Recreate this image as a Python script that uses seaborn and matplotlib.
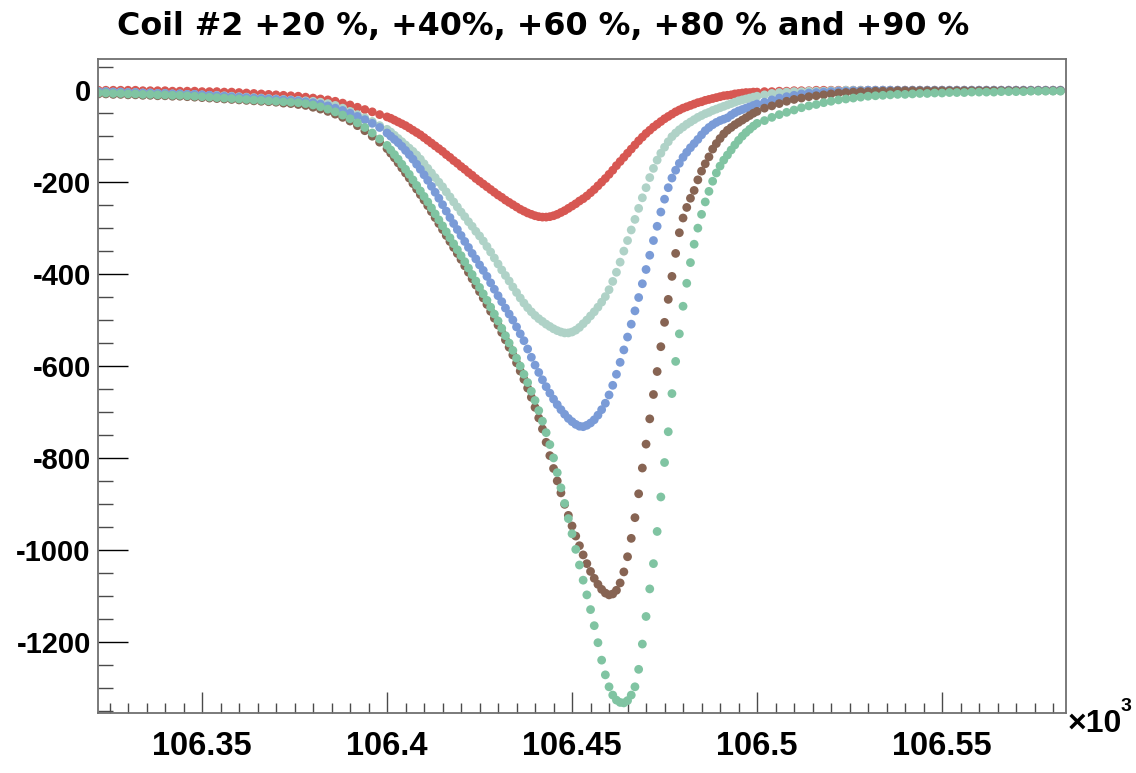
import numpy as np
import pandas as pd
import matplotlib
matplotlib.use("Agg")
import matplotlib.pyplot as plt
from matplotlib.ticker import MultipleLocator, FuncFormatter
import seaborn as sns

# ---------------- data (x in raw units, shown on axis as x/1000 with "x10^3") -------------
# sampling grid: coarse on flat wings, finer through the resonance
X_LEFT = np.arange(106322, 106400, 2)    # 106322 .. 106398
X_MID = np.arange(106400, 106501, 1)     # 106400 .. 106500
X_RIGHT = np.arange(106502, 106583, 2)   # 106502 .. 106582

SERIES = ["+20 %", "+40 %", "+60 %", "+80 %", "+90 %"]

RED_L = [0, 0, 0, 0, 0, 0, -1, -1, -1, -1, -2, -2, -2, -2, -3, -3, -3, -4, -4, -5,
         -6, -7, -8, -9, -10, -11, -12, -13, -15, -17, -19, -21, -24, -28, -32, -37, -42, -47, -53]
RED_M = [-58, -61, -65, -69, -73, -77, -82, -87, -92, -97,
         -103, -109, -115, -121, -127, -133, -140, -146, -153, -159,
         -166, -172, -179, -185, -192, -198, -204, -210, -216, -222,
         -228, -233, -239, -244, -249, -254, -259, -263, -267, -270,
         -273, -275, -276, -276, -275, -273, -270, -266, -262, -257,
         -252, -247, -241, -236, -230, -223, -216, -208, -200, -192,
         -183, -174, -164, -155, -146, -137, -128, -119, -110, -102,
         -94, -87, -80, -74, -68, -62, -57, -52, -47, -43,
         -39, -36, -33, -30, -27, -25, -22, -20, -18, -16,
         -14, -12, -11, -10, -8, -7, -6, -5, -5, -4,
         -4]
RED_R = [-3, -3, -2, -2, -1, -1, -1] + [0] * 34

TEAL_L = [-3, -3, -4, -4, -5, -5, -6, -6, -7, -7,
          -8, -8, -9, -9, -10, -11, -11, -12, -13, -14,
          -15, -16, -17, -18, -19, -20, -21, -22, -23, -24,
          -26, -29, -33, -39, -46, -53, -60, -68, -77]
TEAL_M = [-85, -91, -98, -105, -112, -119, -126, -133, -141, -150,
          -160, -170, -180, -190, -200, -210, -221, -232, -243, -254,
          -265, -275, -286, -296, -307, -317, -328, -340, -352, -365,
          -378, -391, -403, -415, -428, -440, -452, -463, -473, -482,
          -490, -497, -503, -509, -514, -519, -523, -526, -528, -528,
          -526, -522, -516, -508, -500, -491, -482, -472, -461, -449,
          -434, -416, -396, -374, -350, -327, -304, -281, -257, -234,
          -212, -190, -170, -152, -137, -124, -112, -101, -93, -86,
          -80, -74, -69, -64, -59, -55, -51, -48, -44, -41,
          -38, -35, -32, -29, -26, -23, -21, -19, -17, -15,
          -13]
TEAL_R = [-10, -7, -5, -4, -3, -3, -2, -2, -2, -1, -1] + [0] * 30

BLUE_L = [-3, -3, -4, -4, -5, -5, -6, -6, -7, -7,
          -8, -8, -9, -9, -10, -11, -12, -13, -14, -15,
          -16, -17, -18, -19, -20, -21, -22, -23, -25, -27,
          -30, -34, -39, -44, -50, -57, -64, -72, -81]
BLUE_M = [-93, -100, -107, -114, -122, -131, -140, -150, -161, -172,
          -184, -196, -209, -222, -235, -249, -263, -277, -290, -303,
          -316, -329, -342, -355, -367, -380, -392, -405, -419, -433,
          -447, -460, -474, -487, -500, -515, -530, -545, -563, -581,
          -598, -614, -630, -645, -659, -672, -684, -695, -705, -714,
          -721, -727, -731, -732, -729, -724, -717, -707, -695, -681,
          -663, -642, -618, -592, -565, -537, -509, -480, -451, -421,
          -390, -359, -327, -296, -265, -237, -212, -191, -174, -159,
          -146, -135, -125, -116, -107, -97, -88, -81, -75, -70,
          -66, -63, -60, -54, -49, -45, -42, -39, -36, -33,
          -30]
BLUE_R = [-26, -21, -17, -14, -11, -8, -6, -5, -4, -3, -2, -2, -1, -1] + [0] * 27

BROWN_L = [-8, -8, -9, -9, -10, -10, -11, -11, -12, -12,
           -13, -13, -14, -15, -16, -17, -18, -19, -20, -21,
           -22, -23, -24, -25, -26, -28, -29, -31, -33, -37,
           -41, -46, -52, -59, -67, -77, -88, -100, -113]
BROWN_M = [-127, -137, -147, -158, -169, -180, -191, -203, -215, -227,
           -239, -251, -264, -277, -290, -303, -316, -329, -342, -355,
           -368, -382, -396, -410, -424, -438, -452, -466, -481, -496,
           -511, -527, -543, -559, -576, -593, -611, -629, -648, -668,
           -690, -713, -737, -766, -795, -823, -850, -876, -901, -925,
           -948, -970, -991, -1011, -1030, -1047, -1062, -1075, -1086, -1094,
           -1098, -1096, -1088, -1072, -1048, -1015, -975, -930, -878, -822,
           -770, -715, -662, -612, -558, -505, -455, -405, -355, -310,
           -278, -255, -235, -218, -195, -176, -160, -145, -128, -116,
           -105, -95, -87, -81, -75, -70, -65, -60, -55, -50,
           -46]
BROWN_R = [-39, -34, -29, -24, -20, -17, -14, -12, -10, -8,
           -6, -5, -4, -3, -3, -2, -2, -2, -1] + [-1] * 22

GREEN_L = [-6, -6, -7, -7, -8, -8, -9, -9, -10, -10,
           -11, -11, -12, -13, -14, -15, -16, -17, -18, -19,
           -20, -21, -22, -23, -24, -25, -26, -27, -29, -32,
           -36, -41, -47, -54, -62, -71, -81, -93, -106]
GREEN_M = [-120, -130, -140, -150, -161, -172, -183, -195, -207, -219,
           -231, -243, -256, -269, -282, -295, -308, -321, -334, -347,
           -360, -373, -387, -401, -415, -429, -443, -457, -472, -487,
           -502, -518, -534, -550, -566, -583, -600, -618, -636, -655,
           -675, -697, -720, -745, -771, -800, -832, -865, -899, -932,
           -965, -999, -1033, -1066, -1098, -1130, -1165, -1202, -1240, -1272,
           -1298, -1316, -1327, -1332, -1333, -1328, -1316, -1298, -1260, -1205,
           -1145, -1085, -1030, -960, -885, -810, -743, -660, -590, -530,
           -470, -420, -375, -335, -300, -270, -243, -220, -198, -180,
           -165, -152, -141, -130, -119, -109, -100, -92, -85, -78,
           -72]
GREEN_R = [-66, -59, -53, -48, -43, -38, -34, -31, -27, -24,
           -21, -19, -17, -15, -13, -12, -11, -10, -9, -9,
           -8, -7, -7, -6, -6, -5, -5, -5, -4, -4,
           -4, -4, -3, -3, -3, -3, -2, -2, -2, -2,
           -2]

COLORS = ["#d75752", "#afd2c7", "#7a9bd7", "#876453", "#80c4a2"]

TITLE = "Coil #2 +20 %, +40%, +60 %, +80 % and +90 %"

# ---------------- build table ----------------
X_ALL = np.concatenate([X_LEFT, X_MID, X_RIGHT]) / 1000.0
Y_SETS = [RED_L + RED_M + RED_R, TEAL_L + TEAL_M + TEAL_R, BLUE_L + BLUE_M + BLUE_R,
          BROWN_L + BROWN_M + BROWN_R, GREEN_L + GREEN_M + GREEN_R]
frames = []
for name, ys in zip(SERIES, Y_SETS):
    frames.append(pd.DataFrame({"x": X_ALL, "y": np.asarray(ys, float), "series": name}))
df = pd.concat(frames, ignore_index=True)

# ---------------- style ----------------
sns.set_style("white")
plt.rcParams["font.family"] = ["Liberation Sans", "DejaVu Sans"]
plt.rcParams["font.weight"] = "bold"
plt.rcParams["text.color"] = "black"
plt.rcParams["xtick.color"] = "black"
plt.rcParams["ytick.color"] = "black"

W, H = 1136, 773
fig = plt.figure(figsize=(W / 100, H / 100), dpi=100)
L, R, T, B = 97.7, 1066, 59, 713
ax = fig.add_axes([L / W, 1 - B / H, (R - L) / W, (B - T) / H])

sns.scatterplot(data=df, x="x", y="y", hue="series", hue_order=SERIES,
                palette=dict(zip(SERIES, COLORS)), s=40, linewidth=0,
                edgecolor="none", legend=False, ax=ax)

ax.set_xlim(106.3218, 106.5835)
ax.set_ylim(-1355, 68)
ax.set_xlabel("")
ax.set_ylabel("")

ax.xaxis.set_major_locator(MultipleLocator(0.05))
ax.xaxis.set_minor_locator(MultipleLocator(0.005))
ax.yaxis.set_major_locator(MultipleLocator(200))
ax.yaxis.set_minor_locator(MultipleLocator(50))
ax.xaxis.set_major_formatter(FuncFormatter(lambda v, p: f"{v:g}"))
ax.yaxis.set_major_formatter(FuncFormatter(lambda v, p: f"{int(round(v))}"))

for sp in ax.spines.values():
    sp.set_color("#707070")
    sp.set_linewidth(1.3)

ax.tick_params(axis="both", which="both", direction="in", top=False, right=False,
               bottom=True, left=True)
ax.tick_params(axis="y", which="major", length=21.6, width=1.0, labelsize=21, pad=5,
               color="black", labelcolor="black")
ax.tick_params(axis="y", which="minor", length=10.8, width=1.0, color="#4a4a4a")
ax.tick_params(axis="x", which="major", length=14.8, width=1.0, labelsize=23.5, pad=13,
               color="#4a4a4a", labelcolor="black")
ax.tick_params(axis="x", which="minor", length=7.4, width=1.0, color="#4a4a4a")
for lab in ax.get_xticklabels() + ax.get_yticklabels():
    lab.set_fontweight("bold")

fig.text(117 / W, 1 - 35 / H, TITLE, fontsize=22.9, fontweight="bold",
         family=["DejaVu Sans"], color="black", ha="left", va="baseline")
fig.text(1068 / W, 1 - 732 / H, "\u00d710", fontsize=23, fontweight="bold",
         color="black", ha="left", va="baseline")
fig.text(1121 / W, 1 - 711 / H, "3", fontsize=14, fontweight="bold",
         color="black", ha="left", va="baseline")

fig.savefig("out.png", dpi=100)
